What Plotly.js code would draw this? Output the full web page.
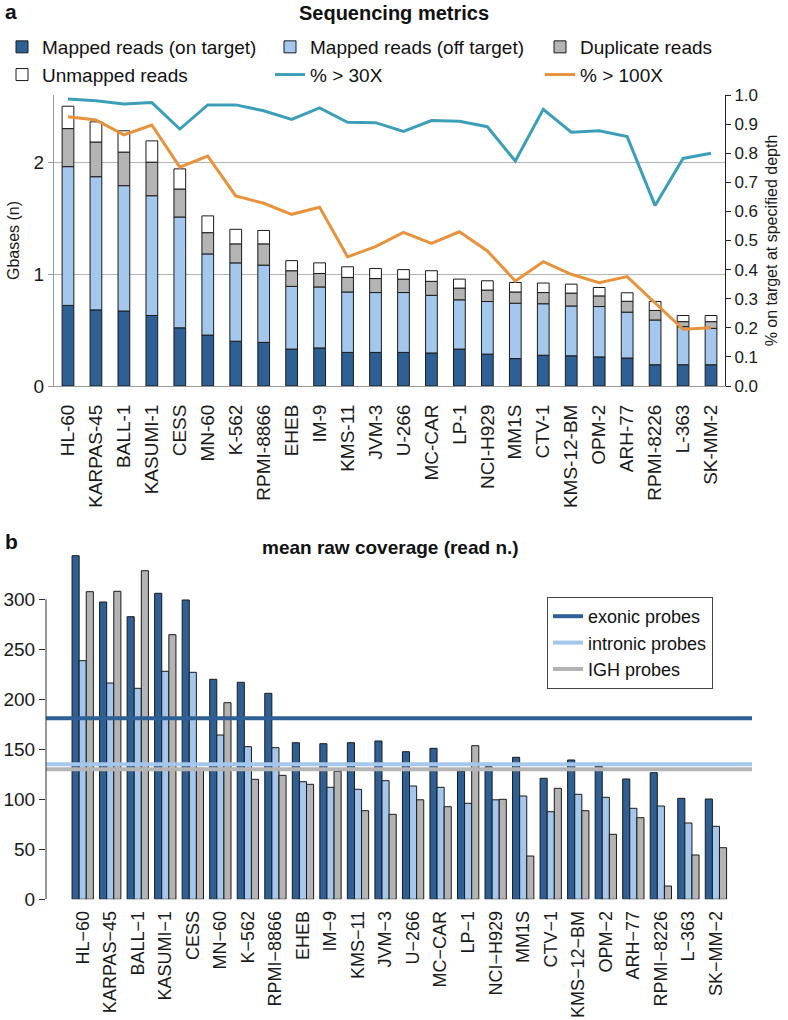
<!DOCTYPE html>
<html><head><meta charset="utf-8">
<script src="https://cdn.plot.ly/plotly-3.0.1.min.js"></script>
<style>html,body{margin:0;padding:0;background:#fff;}#chart{width:788px;height:1020px;}</style>
</head><body><div id="chart"></div>
<script>
// ---------- data ----------
const cellLines = ['HL-60','KARPAS-45','BALL-1','KASUMI-1','CESS','MN-60','K-562','RPMI-8866','EHEB','IM-9','KMS-11','JVM-3','U-266','MC-CAR','LP-1','NCI-H929','MM1S','CTV-1','KMS-12-BM','OPM-2','ARH-77','RPMI-8226','L-363','SK-MM-2'];
const cellLinesB = cellLines.map(s => s.replace(/-/g, '\u2212'));

// Panel a: Gbases per category (segments of stacked bars)
const onTarget  = [0.72,0.68,0.67,0.63,0.52,0.455,0.40,0.39,0.33,0.34,0.30,0.30,0.30,0.295,0.33,0.285,0.245,0.275,0.27,0.26,0.25,0.19,0.19,0.19];
const offTarget = [1.24,1.19,1.12,1.07,0.99,0.725,0.70,0.69,0.56,0.545,0.54,0.535,0.535,0.515,0.44,0.47,0.495,0.46,0.445,0.45,0.41,0.40,0.34,0.325];
const duplicate = [0.34,0.31,0.30,0.30,0.25,0.19,0.17,0.19,0.14,0.12,0.13,0.125,0.12,0.125,0.105,0.102,0.10,0.10,0.115,0.095,0.097,0.085,0.045,0.06];
const unmapped  = [0.20,0.18,0.19,0.19,0.18,0.15,0.13,0.12,0.09,0.095,0.095,0.09,0.085,0.095,0.08,0.083,0.085,0.085,0.08,0.075,0.076,0.08,0.055,0.055];
// fraction on target at depth
const pct30X  = [0.986,0.98,0.969,0.974,0.883,0.966,0.966,0.946,0.916,0.956,0.906,0.905,0.875,0.912,0.91,0.891,0.773,0.951,0.872,0.877,0.857,0.62,0.782,0.80];
const pct100X = [0.925,0.914,0.863,0.897,0.752,0.79,0.653,0.628,0.59,0.614,0.444,0.479,0.528,0.49,0.53,0.464,0.361,0.427,0.384,0.355,0.376,0.285,0.195,0.20];

// Panel b: mean raw coverage
const exonicCov   = [343.6,297.3,282.6,306,299.3,220,217,206,156.6,155.6,156.6,158.3,147.6,151,128,132.6,142,121,139.3,133,120.3,126.6,101,100.3];
const intronicCov = [238.6,216.3,211,228,227,164.3,152.6,151.6,117.6,112,110,118.6,113.3,112,96,99.5,103.3,87.6,105,102,91,93.3,76.3,73];
const ighCov      = [307.6,308,328.6,264.6,131,196.6,120,124,115,128,88.6,85,99.5,92.6,153.6,100,43.3,111,88.6,65,81.6,13.3,44.3,51.6];
const meanNames   = ['exonic probes','intronic probes','IGH probes'];
const meanValues  = [181, 135, 130];

const gbaseTicks = [0, 1, 2];
const depthTicks = [0,0.1,0.2,0.3,0.4,0.5,0.6,0.7,0.8,0.9,1.0];
const covTicks   = [0,50,100,150,200,250,300];

// ---------- styling ----------
const W = 788, H = 1020;
const fx = p => p / W;
const fy = p => 1 - p / H;
const FONT = 'Liberation Sans, Arial, Helvetica, sans-serif';
const DARK = '#2e5f95', LIGHT = '#a4c7ee', GREY = '#b4b4b4', WHITE = '#ffffff';
const TEAL = '#3c9fba', ORANGE = '#e8923c';
const OUTLINE = {color: '#1a1a1a', width: 1};

// cumulative bases for stacked segments
const add = (a, b) => a.map((v, i) => v + b[i]);
const base1 = onTarget.map(() => 0);
const base2 = onTarget.slice();
const base3 = add(onTarget, offTarget);
const base4 = add(base3, duplicate);

function segTrace(name, y, base, color, legend, grp) {
  return {type: 'bar', name, x: cellLines, y, base, width: 0.42,
    marker: {color, line: OUTLINE}, xaxis: 'x', yaxis: 'y', legend, legendgroup: grp,
    hoverinfo: 'x+y+name'};
}

const traces = [
  segTrace('Mapped reads (on target)', onTarget, base1, DARK, 'legend', 'a1'),
  segTrace('Mapped reads (off target)', offTarget, base2, LIGHT, 'legend3', 'b1'),
  segTrace('Duplicate reads', duplicate, base3, GREY, 'legend4', 'c1'),
  segTrace('Unmapped reads', unmapped, base4, WHITE, 'legend', 'a2'),
  {type: 'scatter', mode: 'lines', name: '% > 30X', x: cellLines, y: pct30X,
   line: {color: TEAL, width: 3}, xaxis: 'x', yaxis: 'y2', legend: 'legend3', legendgroup: 'b2'},
  {type: 'scatter', mode: 'lines', name: '% > 100X', x: cellLines, y: pct100X,
   line: {color: ORANGE, width: 3}, xaxis: 'x', yaxis: 'y2', legend: 'legend4', legendgroup: 'c2'},
];

const bw = 0.258;
[[exonicCov, DARK, -1.5], [intronicCov, LIGHT, -0.5], [ighCov, GREY, 0.5]].forEach(([vals, col, k]) => {
  traces.push({type: 'bar', x: cellLinesB, y: vals, width: bw, offset: k * bw,
    marker: {color: col, line: OUTLINE}, xaxis: 'x2', yaxis: 'y3', showlegend: false});
});
const lineCols = [DARK, LIGHT, GREY];
meanNames.forEach((nm, i) => {
  traces.push({type: 'scatter', mode: 'lines', name: nm, x: [0, 1], y: [meanValues[i], meanValues[i]],
    line: {color: lineCols[i], width: 4}, xaxis: 'x3', yaxis: 'y3', legend: 'legend2'});
});

const tickFont = {family: FONT, size: 19, color: '#1a1a1a'};
const tickFontB = {family: FONT, size: 18, color: '#1a1a1a'};
const legFont = {family: FONT, size: 19, color: '#111'};

const layout = {
  width: W, height: H,
  margin: {l: 0, r: 0, t: 0, b: 0},
  paper_bgcolor: '#fff', plot_bgcolor: 'rgba(0,0,0,0)',
  font: {family: FONT, color: '#1a1a1a'},
  barmode: 'overlay',
  title: {text: '<b>Sequencing metrics</b>', font: {family: FONT, size: 20, color: '#111'},
          x: fx(394), xanchor: 'center', y: fy(13), yanchor: 'middle', xref: 'paper', yref: 'paper'},
  xaxis: {domain: [fx(54), fx(725)], anchor: 'y', type: 'category', range: [-0.5, 23.5],
          tickangle: -90, tickfont: tickFont, showline: true, linecolor: '#999', linewidth: 1,
          ticks: '', showgrid: false, zeroline: false, ticklabelstandoff: 10, automargin: false},
  yaxis: {domain: [fy(386), fy(95)], anchor: 'x', range: [0, 2.6], tickvals: gbaseTicks,
          tickfont: tickFont, showgrid: true, gridcolor: '#b3b3b3', gridwidth: 1,
          showline: true, linecolor: '#999', ticks: 'outside', ticklen: 5, tickcolor: '#999',
          zeroline: false, automargin: false,
          title: {text: 'Gbases (n)', font: {family: FONT, size: 16, color: '#1a1a1a'}, standoff: 10}},
  yaxis2: {overlaying: 'y', side: 'right', anchor: 'x', range: [0, 1], tickvals: depthTicks,
           tickformat: '.1f', tickfont: {family: FONT, size: 17, color: '#1a1a1a'},
           showline: true, linecolor: '#222', ticks: 'outside', ticklen: 5, tickcolor: '#222',
           showgrid: false, zeroline: false, automargin: false,
           title: {text: '% on target at specified depth', font: {family: FONT, size: 16, color: '#1a1a1a'}, standoff: 8}},
  xaxis2: {domain: [fx(46), fx(752)], anchor: 'y3', type: 'category', range: [-1.333, 24.31],
           tickangle: -90, tickfont: tickFontB, showline: false, ticks: '', showgrid: false,
           zeroline: false, ticklabelstandoff: 7, automargin: false},
  yaxis3: {domain: [fy(899.3), fy(549.3)], anchor: 'x2', range: [0, 350], tickvals: covTicks,
           tickfont: tickFont, ticks: 'outside', ticklen: 6, tickcolor: '#333',
           showline: false, showgrid: false, zeroline: false, automargin: false},
  xaxis3: {overlaying: 'x2', anchor: 'y3', range: [0, 1], visible: false},
  shapes: [{type: 'line', xref: 'x2 domain', yref: 'y3', x0: 0, x1: 0,
            y0: covTicks[0], y1: covTicks[covTicks.length - 1], line: {color: '#333', width: 1}}],
  legend:  {x: fx(2), y: fy(28), xanchor: 'left', yanchor: 'top', orientation: 'v',
            font: legFont, bgcolor: 'rgba(0,0,0,0)', traceorder: 'grouped', tracegroupgap: 0, itemclick: false},
  legend3: {x: fx(270), y: fy(28), xanchor: 'left', yanchor: 'top', orientation: 'v',
            font: legFont, bgcolor: 'rgba(0,0,0,0)', traceorder: 'grouped', tracegroupgap: 0, itemclick: false},
  legend4: {x: fx(540), y: fy(28), xanchor: 'left', yanchor: 'top', orientation: 'v',
            font: legFont, bgcolor: 'rgba(0,0,0,0)', traceorder: 'grouped', tracegroupgap: 0, itemclick: false},
  legend2: {x: fx(547), y: fy(597), xanchor: 'left', yanchor: 'top', orientation: 'v',
            font: {family: FONT, size: 18, color: '#111'}, bgcolor: '#fff',
            bordercolor: '#444', borderwidth: 1, itemclick: false},
  annotations: [
    {text: '<b>a</b>', xref: 'paper', yref: 'paper', x: fx(3), y: fy(12), xanchor: 'left', yanchor: 'middle',
     showarrow: false, font: {family: FONT, size: 21, color: '#111'}},
    {text: '<b>b</b>', xref: 'paper', yref: 'paper', x: fx(3), y: fy(541), xanchor: 'left', yanchor: 'middle',
     showarrow: false, font: {family: FONT, size: 21, color: '#111'}},
    {text: '<b>mean raw coverage (read n.)</b>', xref: 'paper', yref: 'paper', x: fx(390), y: fy(547),
     xanchor: 'center', yanchor: 'middle', showarrow: false, font: {family: FONT, size: 19, color: '#111'}}
  ]
};

Plotly.newPlot('chart', traces, layout, {displayModeBar: false, staticPlot: true});
</script>
</body></html>
